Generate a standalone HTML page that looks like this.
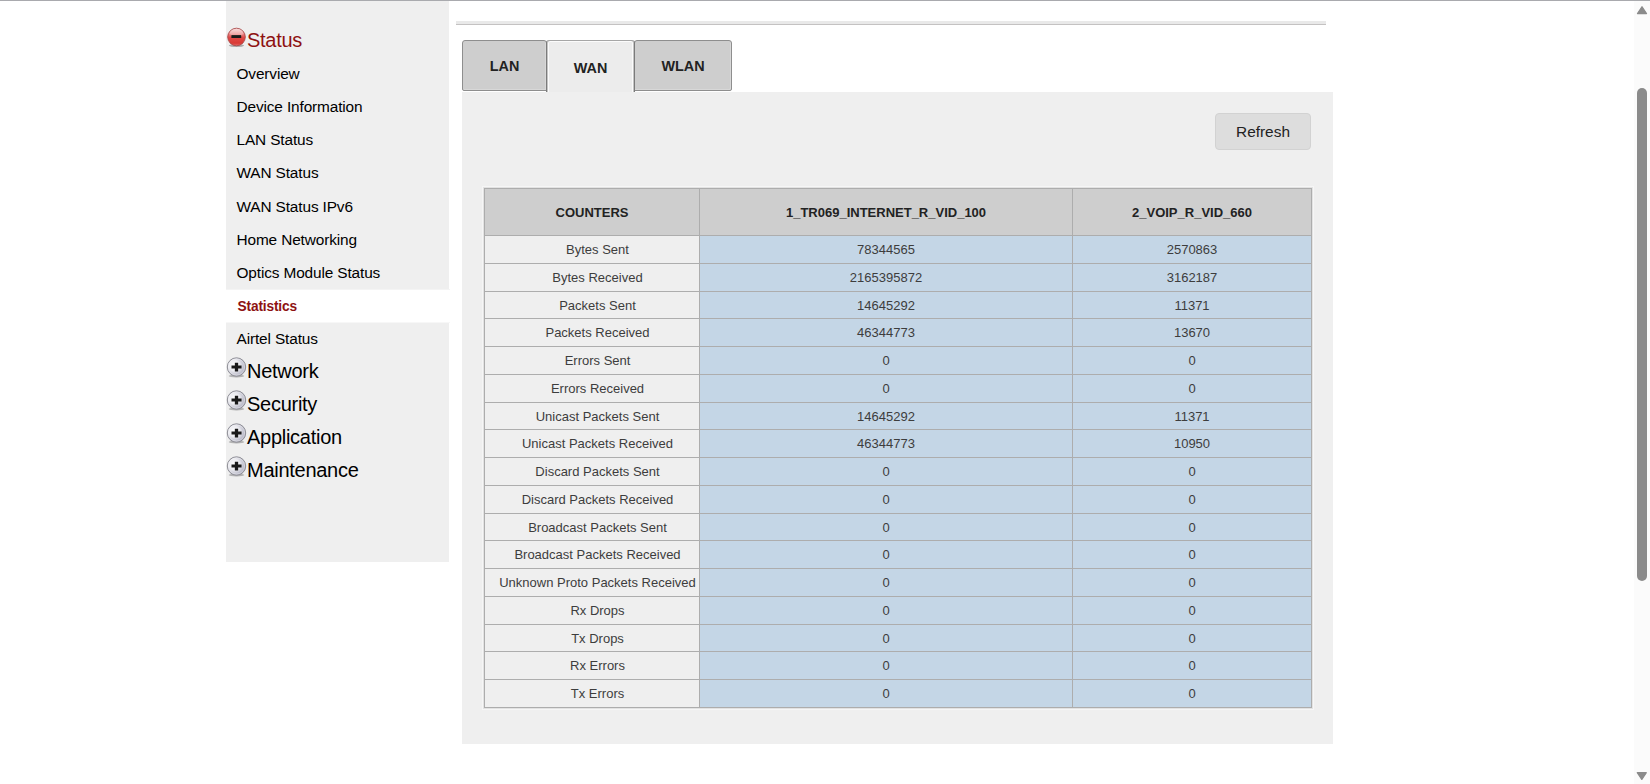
<!DOCTYPE html>
<html lang="en"><head><meta charset="utf-8"><title>Statistics</title>
<style>
html,body{margin:0;padding:0;}
body{width:1650px;height:784px;overflow:hidden;background:#fff;position:relative;font-family:"Liberation Sans",Arial,sans-serif;color:#111;}
#topline{position:absolute;left:0;top:0;width:1650px;height:1px;background:#a9aaae;}
#side{position:absolute;left:226px;top:1px;width:223px;height:561px;background:#efefef;}
#side .head{position:absolute;left:0;width:223px;height:33px;line-height:33px;font-size:20px;letter-spacing:-0.27px;color:#000;white-space:nowrap;}
#side .head span{position:absolute;left:21px;top:0;}
#side .head .ic{position:absolute;left:0.4px;top:2.35px;}
#side .head.cur .ic{left:0px;top:2.95px;}
#side .head.cur{color:#8e1212;}
#side .sub{position:absolute;left:0;width:213px;padding-left:10.5px;height:33px;line-height:33px;font-size:15.4px;letter-spacing:-0.13px;color:#000;white-space:nowrap;}
#side .sub.sel{background:#fff;font-weight:bold;font-size:13.75px;letter-spacing:-0.17px;color:#8e1212;padding-left:11.5px;width:212px;height:32px;line-height:33px;box-shadow:0 1px 0 #f7f7f7,0 -1px 0 #f4f4f4;}
#hr{position:absolute;left:456px;top:21px;width:870px;height:3px;background:#e9e9e9;border-bottom:1px solid #c4c2c2;}
.tab{position:absolute;top:40px;height:49px;box-sizing:content-box;border:1px solid #8e8e8e;border-radius:3px;background:#cecece;font-weight:bold;font-size:14.4px;color:#222;text-align:center;line-height:50px;box-shadow:inset -1px -1px 0 #d8d8d8;}
#t1{left:462px;width:83px;border-radius:3px 3px 0 2px;}
#t3{left:634px;width:96px;border-radius:3px 3px 2px 0;}
#t2{position:absolute;left:546px;top:40px;width:87px;height:51px;border:1px solid #7b7b7b;border-top:1px solid #a6a6a6;border-bottom:0;border-radius:3px 3px 0 0;background:#ececec;box-shadow:inset 1px 0 0 #c4c4c4, inset -1px 0 0 #c4c4c4, inset 2px 0 0 #fbfbfb, inset -2px 0 0 #fbfbfb, inset 0 1px 0 #fbfbfb;font-weight:bold;font-size:14.4px;color:#222;text-align:center;line-height:54.6px;z-index:2;}
#panel{position:absolute;left:462px;top:92px;width:871px;height:652px;background:#efefef;}
#btn{position:absolute;left:1215px;top:113px;width:94px;height:35px;border:1px solid #d2d2d2;border-radius:4px;background:#dddddd;font-size:15.4px;color:#222;text-align:center;line-height:35px;}
table{position:absolute;left:484px;top:188px;width:827px;border-collapse:collapse;table-layout:fixed;font-size:13px;color:#3d3d3d;box-shadow:0 0 0 1px #e2e2e2, 0 0 0 2px #f6f6f6;}
th,td{border:1px solid #adadad;padding:0;text-align:center;vertical-align:middle;white-space:nowrap;overflow:visible;}
th{background:#cecece;color:#222;font-weight:bold;height:46px;}
td.k{background:#efefef;padding-left:11px;}
td.v{background:#c4d6e6;}
#sb{position:absolute;left:1634px;top:1px;width:16px;height:783px;background:#fbfbfb;}
#thumb{position:absolute;left:1637px;top:87.5px;width:9.5px;height:493.5px;border-radius:5px;background:#8b8b8b;}
</style></head><body>
<div id="topline"></div>
<div id="side">
<div class="head cur" style="top:22.57px"><svg class="ic" width="21" height="21" viewBox="0 0 21 21"><defs><linearGradient id="gm" x1="0" y1="0" x2="0" y2="1"><stop offset="0" stop-color="#f7d4d4"/><stop offset="0.3" stop-color="#ec8f8f"/><stop offset="0.52" stop-color="#e04a48"/><stop offset="0.85" stop-color="#d93a34"/><stop offset="1" stop-color="#e66a6a"/></linearGradient></defs><ellipse cx="10.5" cy="18.6" rx="7.6" ry="1.5" fill="#000" opacity="0.28"/><circle cx="10.5" cy="10" r="8.8" fill="url(#gm)" stroke="#a84848" stroke-width="0.9"/><ellipse cx="10.5" cy="6" rx="6.6" ry="4.2" fill="#fff" opacity="0.28"/><rect x="5.4" y="8.1" width="9.8" height="2.9" fill="#1a1a1a"/></svg><span>Status</span></div>
<div class="sub" style="top:56.000px">Overview</div>
<div class="sub" style="top:89.125px">Device Information</div>
<div class="sub" style="top:122.250px">LAN Status</div>
<div class="sub" style="top:155.375px">WAN Status</div>
<div class="sub" style="top:188.500px">WAN Status IPv6</div>
<div class="sub" style="top:221.625px">Home Networking</div>
<div class="sub" style="top:254.750px">Optics Module Status</div>
<div class="sub sel" style="top:289px">Statistics</div>
<div class="sub" style="top:321.000px">Airtel Status</div>
<div class="head" style="top:353.57px"><svg class="ic" width="21" height="21" viewBox="0 0 21 21"><defs><radialGradient id="gp" cx="0.38" cy="0.42" r="0.64"><stop offset="0" stop-color="#ffffff"/><stop offset="0.45" stop-color="#ececf1"/><stop offset="1" stop-color="#a6a6b8"/></radialGradient></defs><ellipse cx="10.5" cy="19" rx="7.8" ry="1.5" fill="#000" opacity="0.25"/><circle cx="10.5" cy="10" r="9.2" fill="url(#gp)" stroke="#8e8e96" stroke-width="1"/><circle cx="10.5" cy="10" r="8.1" fill="none" stroke="#ffffff" stroke-opacity="0.5" stroke-width="0.8"/><path d="M8.85 5.7h3.3v2.9h3.4v2.8h-3.4v3H8.85v-3H5.5V8.6h3.35z" fill="#1a1a1a"/></svg><span>Network</span></div>
<div class="head" style="top:386.57px"><svg class="ic" width="21" height="21" viewBox="0 0 21 21"><ellipse cx="10.5" cy="19" rx="7.8" ry="1.5" fill="#000" opacity="0.25"/><circle cx="10.5" cy="10" r="9.2" fill="url(#gp)" stroke="#8e8e96" stroke-width="1"/><circle cx="10.5" cy="10" r="8.1" fill="none" stroke="#ffffff" stroke-opacity="0.5" stroke-width="0.8"/><path d="M8.85 5.7h3.3v2.9h3.4v2.8h-3.4v3H8.85v-3H5.5V8.6h3.35z" fill="#1a1a1a"/></svg><span>Security</span></div>
<div class="head" style="top:419.57px"><svg class="ic" width="21" height="21" viewBox="0 0 21 21"><ellipse cx="10.5" cy="19" rx="7.8" ry="1.5" fill="#000" opacity="0.25"/><circle cx="10.5" cy="10" r="9.2" fill="url(#gp)" stroke="#8e8e96" stroke-width="1"/><circle cx="10.5" cy="10" r="8.1" fill="none" stroke="#ffffff" stroke-opacity="0.5" stroke-width="0.8"/><path d="M8.85 5.7h3.3v2.9h3.4v2.8h-3.4v3H8.85v-3H5.5V8.6h3.35z" fill="#1a1a1a"/></svg><span>Application</span></div>
<div class="head" style="top:452.57px"><svg class="ic" width="21" height="21" viewBox="0 0 21 21"><ellipse cx="10.5" cy="19" rx="7.8" ry="1.5" fill="#000" opacity="0.25"/><circle cx="10.5" cy="10" r="9.2" fill="url(#gp)" stroke="#8e8e96" stroke-width="1"/><circle cx="10.5" cy="10" r="8.1" fill="none" stroke="#ffffff" stroke-opacity="0.5" stroke-width="0.8"/><path d="M8.85 5.7h3.3v2.9h3.4v2.8h-3.4v3H8.85v-3H5.5V8.6h3.35z" fill="#1a1a1a"/></svg><span>Maintenance</span></div>
</div>
<div id="hr"></div>
<div class="tab" id="t1">LAN</div>
<div id="t2">WAN</div>
<div class="tab" id="t3">WLAN</div>
<div id="panel"></div>
<div id="btn">Refresh</div>
<table>
<colgroup><col style="width:215px"><col style="width:373px"><col style="width:239px"></colgroup>
<tr><th>COUNTERS</th><th>1_TR069_INTERNET_R_VID_100</th><th>2_VOIP_R_VID_660</th></tr>
<tr style="height:28px"><td class="k">Bytes Sent</td><td class="v">78344565</td><td class="v">2570863</td></tr>
<tr style="height:28px"><td class="k">Bytes Received</td><td class="v">2165395872</td><td class="v">3162187</td></tr>
<tr style="height:27px"><td class="k">Packets Sent</td><td class="v">14645292</td><td class="v">11371</td></tr>
<tr style="height:28px"><td class="k">Packets Received</td><td class="v">46344773</td><td class="v">13670</td></tr>
<tr style="height:28px"><td class="k">Errors Sent</td><td class="v">0</td><td class="v">0</td></tr>
<tr style="height:28px"><td class="k">Errors Received</td><td class="v">0</td><td class="v">0</td></tr>
<tr style="height:27px"><td class="k">Unicast Packets Sent</td><td class="v">14645292</td><td class="v">11371</td></tr>
<tr style="height:28px"><td class="k">Unicast Packets Received</td><td class="v">46344773</td><td class="v">10950</td></tr>
<tr style="height:28px"><td class="k">Discard Packets Sent</td><td class="v">0</td><td class="v">0</td></tr>
<tr style="height:28px"><td class="k">Discard Packets Received</td><td class="v">0</td><td class="v">0</td></tr>
<tr style="height:27px"><td class="k">Broadcast Packets Sent</td><td class="v">0</td><td class="v">0</td></tr>
<tr style="height:28px"><td class="k">Broadcast Packets Received</td><td class="v">0</td><td class="v">0</td></tr>
<tr style="height:28px"><td class="k">Unknown Proto Packets Received</td><td class="v">0</td><td class="v">0</td></tr>
<tr style="height:28px"><td class="k">Rx Drops</td><td class="v">0</td><td class="v">0</td></tr>
<tr style="height:27px"><td class="k">Tx Drops</td><td class="v">0</td><td class="v">0</td></tr>
<tr style="height:28px"><td class="k">Rx Errors</td><td class="v">0</td><td class="v">0</td></tr>
<tr style="height:28px"><td class="k">Tx Errors</td><td class="v">0</td><td class="v">0</td></tr>
</table>
<div id="sb"></div>
<svg style="position:absolute;left:1634px;top:0" width="16" height="784" viewBox="0 0 16 784"><path d="M8 6.8 L12.5 13.5 L3.5 13.5 Z" fill="#8b8b8b" stroke="#8b8b8b" stroke-width="1.3" stroke-linejoin="round"/><path d="M7.8 779.4 L12.3 772.7 L3.3 772.7 Z" fill="#8b8b8b" stroke="#8b8b8b" stroke-width="1.3" stroke-linejoin="round"/></svg>
<div id="thumb"></div>
</body></html>
